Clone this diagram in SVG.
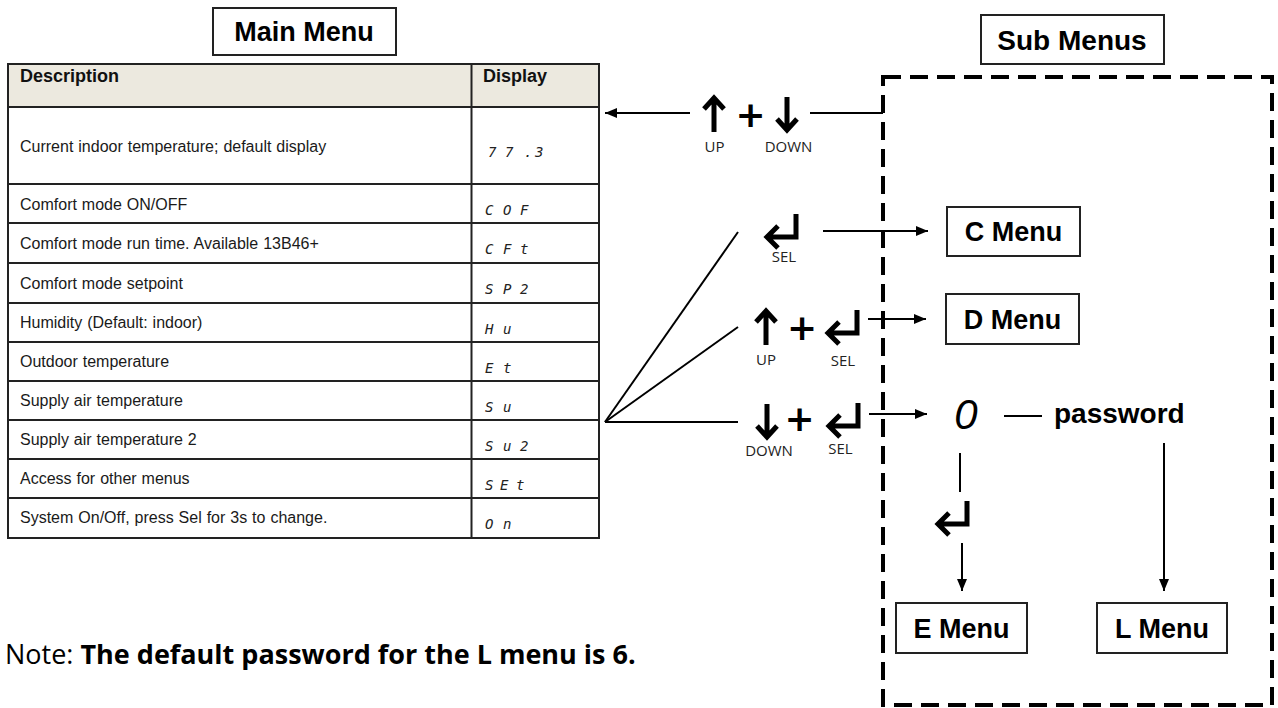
<svg xmlns="http://www.w3.org/2000/svg" width="1278" height="708" viewBox="0 0 1278 708">
<defs>
<style>
.box{fill:#fff;stroke:#222;stroke-width:2}
.title{font-family:"Liberation Sans",Arial,sans-serif;font-weight:bold;fill:#000;text-anchor:middle}
.cell{font-family:"Liberation Sans",Arial,sans-serif;font-size:16px;fill:#1a1a1a;word-spacing:0.5px}
.hdr{font-family:"Liberation Sans",Arial,sans-serif;font-size:18px;font-weight:bold;fill:#111}
.seg{font-family:"DejaVu Sans Mono",monospace;font-style:oblique;font-size:14px;fill:#222}
.lbl{font-family:"Open Sans",sans-serif;font-size:15px;fill:#222;text-anchor:middle}
.plus{font-family:"DejaVu Sans",sans-serif;font-weight:bold;font-size:36px;fill:#000;text-anchor:middle}
.ln{stroke:#000;stroke-width:2;fill:none}
.icon{stroke:#000;stroke-width:5;fill:none;stroke-linecap:butt;stroke-linejoin:miter}
.grid{stroke:#222;stroke-width:2;fill:none}
</style>
<marker id="ah" viewBox="0 0 12 10" refX="12" refY="5" markerWidth="12" markerHeight="10" markerUnits="userSpaceOnUse" orient="auto"><path d="M0,0 L12,5 L0,10 z" fill="#000"/></marker>
<path id="up" d="M11,36 V3 M1,13 L11,2 L21,13"/>
<path id="down" d="M11,0 V33 M1,22 L11,33 L21,22"/>
<path id="enter" d="M33,0 V23 H4 M15,12 L4,23 L15,34"/>
</defs>
<rect width="1278" height="708" fill="#fff"/>

<g id="main-menu-title">
<rect class="box" x="213" y="8" width="183" height="47"/>
<text class="title" x="304" y="41" font-size="27">Main Menu</text>
</g>

<g id="main-menu-table">
<rect x="8" y="64" width="591" height="43" fill="#ECE9DF"/>
<rect class="grid" x="8" y="64" width="591" height="474"/>
<line class="grid" x1="471.5" y1="64" x2="471.5" y2="538"/>
<path class="grid" d="M8,107H599 M8,184H599 M8,223H599 M8,263H599 M8,303H599 M8,342H599 M8,381H599 M8,420H599 M8,459H599 M8,498H599"/>
<text class="hdr" x="20" y="82">Description</text>
<text class="hdr" x="483" y="82">Display</text>
<text class="cell" x="20" y="152">Current indoor temperature; default display</text>
<text class="cell" x="20" y="210">Comfort mode ON/OFF</text>
<text class="cell" x="20" y="249">Comfort mode run time. Available 13B46+</text>
<text class="cell" x="20" y="289">Comfort mode setpoint</text>
<text class="cell" x="20" y="328">Humidity (Default: indoor)</text>
<text class="cell" x="20" y="367">Outdoor temperature</text>
<text class="cell" x="20" y="406">Supply air temperature</text>
<text class="cell" x="20" y="445">Supply air temperature 2</text>
<text class="cell" x="20" y="484">Access for other menus</text>
<text class="cell" x="20" y="523">System On/Off, press Sel for 3s to change.</text>
<text class="seg" x="488 505 524 535" y="157">77.3</text>
<text class="seg" x="485 503 520" y="215">COF</text>
<text class="seg" x="485 503 520" y="254">CFt</text>
<text class="seg" x="485 503 520" y="294">SP2</text>
<text class="seg" x="485 503" y="334">Hu</text>
<text class="seg" x="485 503" y="373">Et</text>
<text class="seg" x="485 503" y="412">Su</text>
<text class="seg" x="485 503 520" y="451">Su2</text>
<text class="seg" x="485 500 516" y="490">SEt</text>
<text class="seg" x="485 503" y="529">On</text>
</g>

<g id="key-up-down">
<use href="#up" class="icon" x="703" y="96"/>
<text class="plus" x="750.5" y="126.5">+</text>
<use href="#down" class="icon" x="776" y="97"/>
<text class="lbl" x="714.5" y="152">UP</text>
<text class="lbl" x="788.5" y="152">DOWN</text>
</g>

<g id="key-sel">
<use href="#enter" class="icon" x="763" y="214"/>
<text class="lbl" x="784" y="262">SEL</text>
</g>

<g id="key-up-sel">
<use href="#up" class="icon" x="755" y="309"/>
<text class="plus" x="802" y="340">+</text>
<use href="#enter" class="icon" x="824" y="310"/>
<text class="lbl" x="766" y="365">UP</text>
<text class="lbl" x="843" y="366">SEL</text>
</g>

<g id="key-down-sel">
<use href="#down" class="icon" x="756" y="404"/>
<text class="plus" x="799.5" y="430.5">+</text>
<use href="#enter" class="icon" x="825" y="403"/>
<text class="lbl" x="769" y="456">DOWN</text>
<text class="lbl" x="840.5" y="454">SEL</text>
</g>

<g id="sub-menus">
<rect x="883" y="77" width="389" height="628" fill="none" stroke="#000" stroke-width="4" stroke-dasharray="18 9"/>
<rect class="box" x="981" y="15" width="183" height="49"/>
<text class="title" x="1072" y="50" font-size="28">Sub Menus</text>
</g>

<g id="c-menu">
<rect class="box" x="947" y="207" width="133" height="49"/>
<text class="title" x="1013.5" y="241" font-size="27">C Menu</text>
</g>
<g id="d-menu">
<rect class="box" x="946" y="294" width="133" height="50"/>
<text class="title" x="1012.5" y="329" font-size="27">D Menu</text>
</g>
<g id="e-menu">
<rect class="box" x="896" y="603" width="131" height="50"/>
<text class="title" x="961.5" y="638" font-size="27">E Menu</text>
</g>
<g id="l-menu">
<rect class="box" x="1097" y="603" width="130" height="50"/>
<text class="title" x="1162" y="638" font-size="27">L Menu</text>
</g>

<g id="password-display">
<text x="966" y="429" font-family="Liberation Sans, Arial, sans-serif" font-style="italic" font-size="42" text-anchor="middle" fill="#000">0</text>
<text x="1054" y="423" font-family="Liberation Sans, Arial, sans-serif" font-weight="bold" font-size="28" fill="#000">password</text>
<use href="#enter" class="icon" x="934" y="501"/>
</g>

<g id="connectors">
<line class="ln" x1="690" y1="113" x2="605" y2="113" marker-end="url(#ah)"/>
<line class="ln" x1="810" y1="113" x2="883" y2="113"/>
<line class="ln" x1="605" y1="422" x2="738" y2="232"/>
<line class="ln" x1="605" y1="422" x2="738" y2="327"/>
<line class="ln" x1="605" y1="422" x2="738" y2="422"/>
<line class="ln" x1="823" y1="231" x2="928" y2="231" marker-end="url(#ah)"/>
<line class="ln" x1="868" y1="319" x2="926" y2="319" marker-end="url(#ah)"/>
<line class="ln" x1="869" y1="414" x2="927" y2="414" marker-end="url(#ah)"/>
<line class="ln" x1="1004" y1="416" x2="1042" y2="416"/>
<line class="ln" x1="960" y1="453" x2="960" y2="492"/>
<line class="ln" x1="962" y1="543" x2="962" y2="591" marker-end="url(#ah)"/>
<line class="ln" x1="1164" y1="443" x2="1164" y2="591" marker-end="url(#ah)"/>
</g>

<text x="5" y="664" font-family="Open Sans, sans-serif" font-size="27" fill="#000">Note: <tspan font-weight="bold">The default password for the L menu is 6.</tspan></text>
</svg>
